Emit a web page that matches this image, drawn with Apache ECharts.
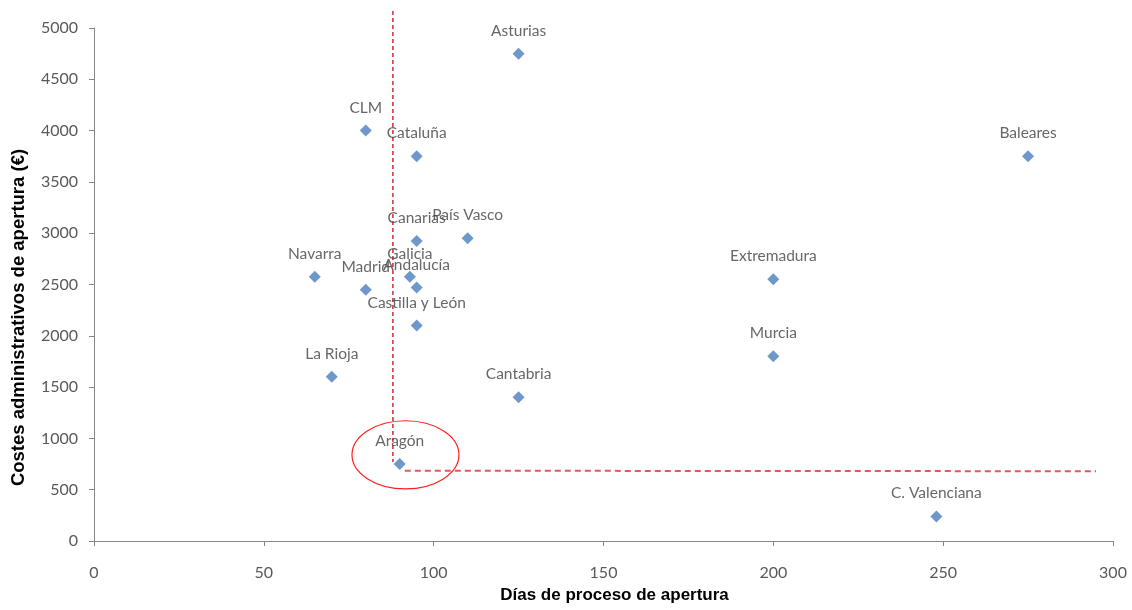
<!DOCTYPE html>
<html>
<head>
	<meta charset="UTF-8">
	<title>Costes y días de apertura</title>
	<script src="https://cdn.jsdelivr.net/npm/echarts@6/dist/echarts.min.js"></script>
	<style>
		html, body { margin: 0; padding: 0; background: #fff; }
		#main { width: 1132px; height: 610px; }
	</style>
</head>
<body>
	<div id="main"></div>
	<script>
	// datos por comunidad
	var regions = ['Asturias', 'CLM', 'Cataluña', 'Baleares', 'Canarias', 'País Vasco', 'Navarra',
		'Galicia', 'Andalucía', 'Madrid', 'Extremadura', 'Castilla y León', 'Murcia', 'La Rioja',
		'Cantabria', 'Aragón', 'C. Valenciana'];
	var days = [125, 80, 95, 275, 95, 110, 65, 93, 95, 80, 200, 95, 200, 70, 125, 90, 248];
	var costs = [4750, 4000, 3750, 3750, 2925, 2950, 2575, 2575, 2470, 2450, 2550, 2100, 1800, 1600, 1400, 750, 240];

	// líneas de referencia y elipse (Aragón)
	var vLineX = [88, 88];
	var vLineY = [5165, 770];
	var hLineX = [91.5, 295];
	var hLineY = [685, 680];
	var ellipseCenter = [91.7, 840];
	var ellipseRadius = [15.75, 332];

	var pts = [];
	for (var i = 0; i < regions.length; i++) {
		pts.push([days[i], costs[i], regions[i]]);
	}

	var option = {
		animation: false,
		grid: { left: 94, right: 19, top: 28, bottom: 69, containLabel: false, outerBoundsMode: 'none' },
		xAxis: {
			type: 'value', min: 0, max: 300, interval: 50,
			name: 'Días de proceso de apertura', nameLocation: 'middle', nameGap: 46,
			nameTextStyle: { fontFamily: 'Liberation Sans', fontSize: 17, fontWeight: 'bold', color: '#000', padding: [0, 0, 0, 22] },
			axisLine: { lineStyle: { color: '#868686' } },
			axisTick: { show: true, length: 5, lineStyle: { color: '#868686' } },
			axisLabel: { margin: 24, fontFamily: 'Lato', fontSize: 16, color: '#595959' },
			splitLine: { show: false }
		},
		yAxis: {
			type: 'value', min: 0, max: 5000, interval: 500,
			name: 'Costes administrativos de apertura (€)', nameLocation: 'middle', nameGap: 66,
			nameTextStyle: { fontFamily: 'Liberation Sans', fontSize: 18.5, fontWeight: 'bold', color: '#000', padding: [0, 66, 0, 0] },
			axisLine: { show: true, lineStyle: { color: '#868686' } },
			axisTick: { show: true, length: 5, lineStyle: { color: '#868686' } },
			axisLabel: {
				margin: 16, fontFamily: 'Lato', fontSize: 16, color: '#595959',
				formatter: function (v) { return String(v); }
			},
			splitLine: { show: false }
		},
		series: [
			{
				type: 'line', clip: false, symbol: 'none', z: 1,
				data: [[vLineX[0], vLineY[0]], [vLineX[1], vLineY[1]]],
				lineStyle: { color: '#d9262a', width: 1.5, type: [4, 3] }
			},
			{
				type: 'line', clip: false, symbol: 'none', z: 1,
				data: [[hLineX[0], hLineY[0]], [hLineX[1], hLineY[1]]],
				lineStyle: { color: '#e05a5a', width: 2, type: [6, 4] }
			},
			{
				type: 'custom', z: 1,
				data: [ellipseCenter],
				renderItem: function (params, api) {
					var c = api.coord([api.value(0), api.value(1)]);
					var s = api.size(ellipseRadius);
					return {
						type: 'ellipse',
						shape: { cx: c[0], cy: c[1], rx: s[0], ry: s[1] },
						style: { fill: 'none', stroke: '#ff2020', lineWidth: 1.2 }
					};
				}
			},
			{
				type: 'scatter', z: 3,
				symbol: 'diamond', symbolSize: 12,
				itemStyle: { color: '#4a7ebb' },
				data: pts,
				label: {
					show: true, position: 'top', distance: 9,
					formatter: function (p) { return p.data[2]; },
					fontFamily: 'Lato', fontSize: 15.5, color: '#404040'
				}
			}
		]
	};

	var myChart = echarts.init(document.getElementById('main'));
	myChart.setOption(option);
	</script>
</body>
</html>
